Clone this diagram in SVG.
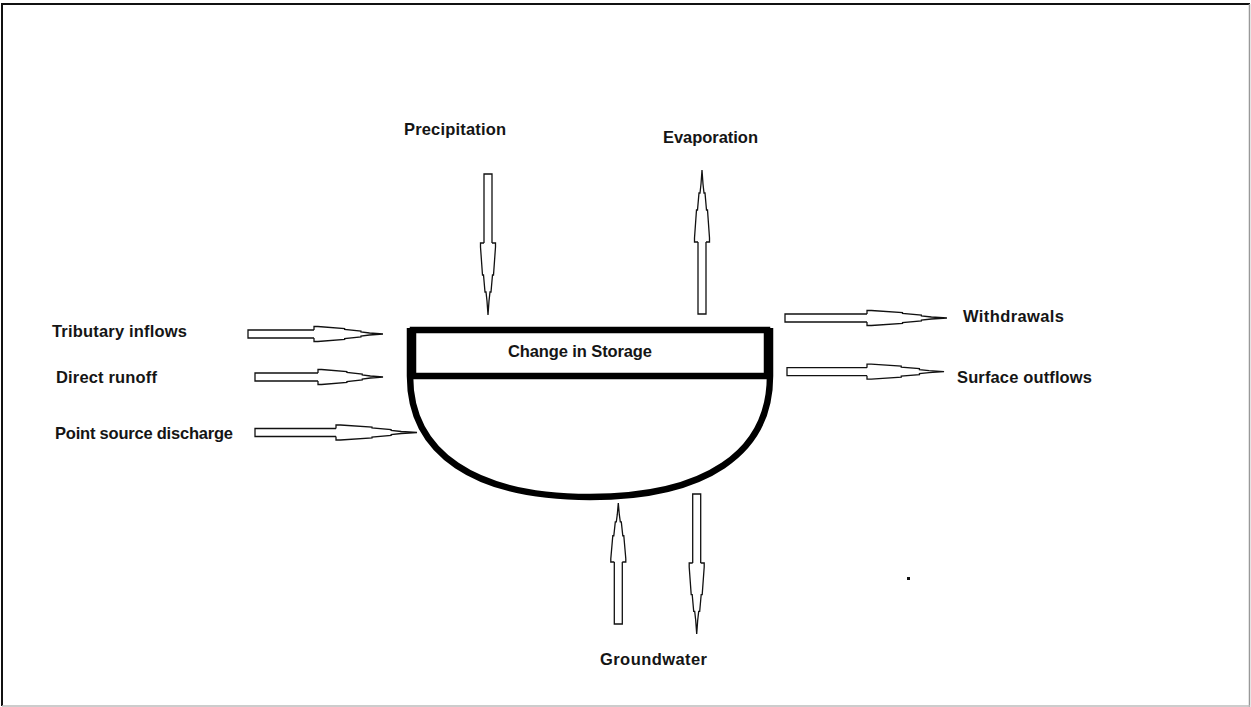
<svg xmlns="http://www.w3.org/2000/svg" xmlns:xlink="http://www.w3.org/1999/xlink" width="1251" height="707" viewBox="0 0 1251 707">
<style>
  .lbl { font-family: "Liberation Sans", Arial, sans-serif; font-weight: bold; font-size: 16.5px; fill: #151515; }
  .shaft, .head { fill: #fff; stroke: #111; stroke-width: 1.3; stroke-linejoin: miter; }
  .head { vector-effect: non-scaling-stroke; }
  .bowl { fill: none; stroke: #000; stroke-width: 6.5; }
</style>
<defs>
  <path id="head" class="head" d="M0,-4 L0,-7.5 L4,-7.5 L32,-5.5 L32,-4.5 L49,-3 L49,-2 L58,-1 L72,0 L58,1 L49,2 L49,3 L32,4.5 L32,5.5 L4,7.5 L0,7.5 L0,4"/>
</defs>
<rect x="0" y="0" width="1251" height="707" fill="#fff"/>
<g id="frame">
  <line x1="1" y1="4" x2="1250" y2="4" stroke="#111" stroke-width="2"/>
  <line x1="2" y1="4" x2="2" y2="706" stroke="#111" stroke-width="2"/>
  <line x1="1249.5" y1="4" x2="1249.5" y2="707" stroke="#999" stroke-width="1.5"/>
  <line x1="2" y1="706" x2="1250" y2="706" stroke="#bbb" stroke-width="1.5"/>
</g>
<g id="basin">
  <path class="bowl" d="M410,328 L410,376 C410,453.4 474.8,497 590,497 C705.2,497 770,453.4 770,376 L770,328"/>
  <rect class="bowl" x="413" y="330" width="354" height="46"/>
  <text class="lbl" x="508" y="357" textLength="144">Change in Storage</text>
</g>
<g id="connectors">
  <g id="arrow-tributary" transform="translate(314,334)">
    <path class="shaft" d="M0,-4 H-66 V4 H0"/>
    <use xlink:href="#head" href="#head" transform="scale(0.958,1)"/>
  </g>
  <g id="arrow-direct" transform="translate(318,377)">
    <path class="shaft" d="M0,-4 H-63 V4 H0"/>
    <use xlink:href="#head" href="#head" transform="scale(0.903,1)"/>
  </g>
  <g id="arrow-point" transform="translate(336,432.5)">
    <path class="shaft" d="M0,-4 H-81 V4 H0"/>
    <use xlink:href="#head" href="#head" transform="scale(1.125,1)"/>
  </g>
  <g id="arrow-precip" transform="translate(488,243) rotate(90)">
    <path class="shaft" d="M0,-4 H-69 V4 H0"/>
    <use xlink:href="#head" href="#head"/>
  </g>
  <g id="arrow-evap" transform="translate(702,242) rotate(-90)">
    <path class="shaft" d="M0,-4 H-72 V4 H0"/>
    <use xlink:href="#head" href="#head"/>
  </g>
  <g id="arrow-gw-in" transform="translate(618.3,562) rotate(-90)">
    <path class="shaft" d="M0,-4 H-62 V4 H0"/>
    <use xlink:href="#head" href="#head" transform="scale(0.82,1)"/>
  </g>
  <g id="arrow-gw-out" transform="translate(696.7,563) rotate(90)">
    <path class="shaft" d="M0,-4 H-69 V4 H0"/>
    <use xlink:href="#head" href="#head" transform="scale(0.986,1)"/>
  </g>
  <g id="arrow-withdrawals" transform="translate(867,318)">
    <path class="shaft" d="M0,-4 H-82 V4 H0"/>
    <use xlink:href="#head" href="#head" transform="scale(1.11,1)"/>
  </g>
  <g id="arrow-surface" transform="translate(867,371.7)">
    <path class="shaft" d="M0,-4 H-80 V4 H0"/>
    <use xlink:href="#head" href="#head" transform="scale(1.07,1)"/>
  </g>
</g>
<g id="label-precipitation"><text class="lbl" x="404" y="135" textLength="102">Precipitation</text></g>
<g id="label-evaporation"><text class="lbl" x="663" y="143" textLength="95">Evaporation</text></g>
<g id="label-tributary"><text class="lbl" x="52" y="337" textLength="135">Tributary inflows</text></g>
<g id="label-direct"><text class="lbl" x="56" y="383" textLength="101">Direct runoff</text></g>
<g id="label-point"><text class="lbl" x="55" y="439" textLength="178">Point source discharge</text></g>
<g id="label-withdrawals"><text class="lbl" x="963" y="322" textLength="101">Withdrawals</text></g>
<g id="label-surface"><text class="lbl" x="957" y="383" textLength="135">Surface outflows</text></g>
<g id="label-groundwater"><text class="lbl" x="600" y="665" textLength="107">Groundwater</text></g>
<rect x="907" y="577" width="3" height="3" fill="#111"/>
</svg>
